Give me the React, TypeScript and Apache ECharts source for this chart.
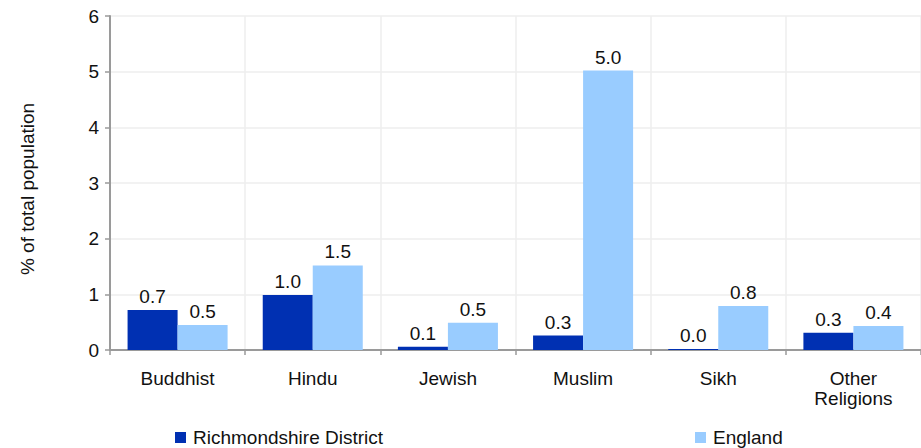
import React, { useEffect, useRef } from "react";
import * as echarts from "echarts";

const categories = ["Buddhist", "Hindu", "Jewish", "Muslim", "Sikh", "Other\nReligions"];
const richmondshire = [0.72, 0.99, 0.06, 0.26, 0.02, 0.31];
const england = [0.45, 1.52, 0.49, 5.02, 0.79, 0.43];
const seriesNames = ["Richmondshire District", "England"];
const yTicks = { min: 0, max: 6, interval: 1 };

const FONT = "'Liberation Sans', Arial, sans-serif";
const FS = 19;

export default function App() {
  const ref = useRef<HTMLDivElement>(null);
  useEffect(() => {
    if (!ref.current) return;
    const chart = echarts.init(ref.current, undefined, { renderer: "svg" });
    const label = {
      show: true,
      position: "top",
      distance: 4,
      fontSize: FS,
      fontFamily: FONT,
      color: "#111",
      formatter: (p: any) => (Math.round(p.value * 10) / 10).toFixed(1),
    };
    const legendBase = {
      top: 428,
      padding: 0,
      itemWidth: 11,
      itemHeight: 11,
      icon: "rect",
      textStyle: { fontSize: FS, fontFamily: FONT, color: "#111", padding: [0, 0, 0, 2] },
    };
    chart.setOption({
      animation: false,
      textStyle: { fontFamily: FONT },
      grid: { left: 110, right: -2, top: 16, bottom: 98, containLabel: false },
      legend: [
        { ...legendBase, data: [seriesNames[0]], left: 175 },
        { ...legendBase, data: [seriesNames[1]], left: 695 },
      ],
      xAxis: {
        type: "category",
        data: categories,
        axisLine: { lineStyle: { color: "#9a9a9a", width: 2 } },
        axisTick: { show: true, length: 5, lineStyle: { color: "#9a9a9a", width: 1.5 } },
        axisLabel: { fontSize: FS, fontFamily: FONT, color: "#111", margin: 18, lineHeight: 20 },
        splitLine: { show: true, lineStyle: { color: "#eeeeee", width: 1.5 } },
      },
      yAxis: {
        type: "value",
        min: yTicks.min,
        max: yTicks.max,
        interval: yTicks.interval,
        name: "% of total population",
        nameLocation: "middle",
        nameGap: 73,
        nameTextStyle: { fontSize: FS, fontFamily: FONT, color: "#111", padding: [0, 12, 0, 0] },
        axisLine: { show: true, lineStyle: { color: "#9a9a9a", width: 2 } },
        axisTick: { show: true, length: 5, lineStyle: { color: "#9a9a9a", width: 1.5 } },
        axisLabel: { fontSize: FS, fontFamily: FONT, color: "#111", margin: 11 },
        splitLine: { show: true, lineStyle: { color: "#eeeeee", width: 1.5 } },
      },
      series: [
        {
          name: seriesNames[0],
          type: "bar",
          data: richmondshire,
          itemStyle: { color: "#0030b2" },
          barGap: "0%",
          barCategoryGap: "26%",
          label,
        },
        {
          name: seriesNames[1],
          type: "bar",
          data: england,
          itemStyle: { color: "#99ccff" },
          barGap: "0%",
          barCategoryGap: "26%",
          label,
        },
      ],
    });
    return () => chart.dispose();
  }, []);
  return (
    <div
      ref={ref}
      style={{ position: "absolute", left: 0, top: 0, width: 921, height: 448, background: "#fff" }}
    />
  );
}
